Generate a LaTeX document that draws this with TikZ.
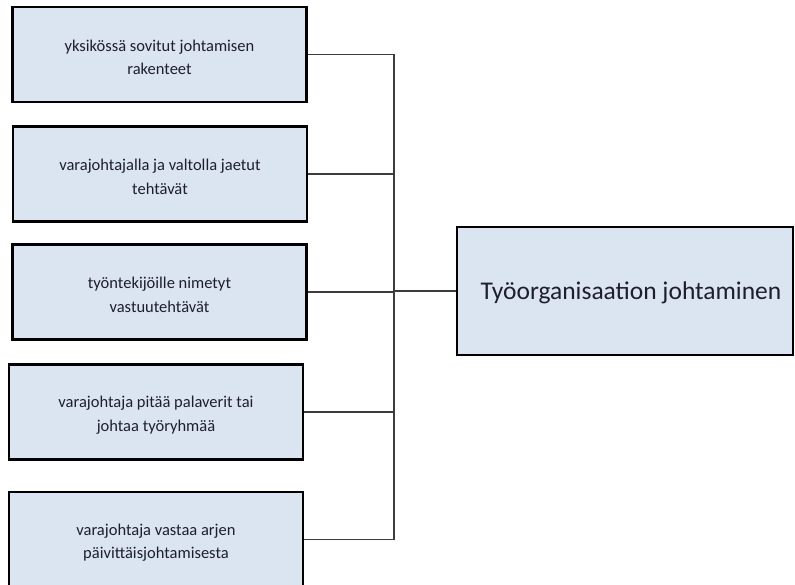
\documentclass[tikz,border=0pt]{standalone}
\usepackage{fontspec}
\setmainfont{Carlito}
\definecolor{boxfill}{HTML}{DBE5F1}
\definecolor{boxtext}{HTML}{1E1E2E}
\definecolor{wire}{HTML}{3C3C3C}
\tikzset{
  taskbox/.style={draw=black, line width=2.6pt, fill=boxfill,
    inner sep=0pt, minimum width=294pt, minimum height=95pt},
  mainbox/.style={taskbox, minimum width=336pt, minimum height=128pt},
  tasktext/.style={text=boxtext, align=center, inner sep=0pt,
    font=\fontsize{16.5}{23.5}\selectfont},
  maintext/.style={tasktext, font=\fontsize{25.5}{30}\selectfont},
  link/.style={draw=wire, line width=1.3pt}
}
\begin{document}
\begin{tikzpicture}[x=1pt,y=-1pt]
  \useasboundingbox (0,0) rectangle (795,584);
  % task boxes on the left
  \node[taskbox] (b1) at (159.5,54.5) {};
  \node[taskbox] (b2) at (160,174) {};
  \node[taskbox] (b3) at (159.5,292) {};
  \node[taskbox] (b4) at (156,412) {};
  \node[taskbox] (b5) at (156,539.5) {};
  \node[tasktext] (t1) at ([yshift=-3pt]b1.center) {yksikössä sovitut johtamisen\\rakenteet};
  \node[tasktext] (t2) at ([yshift=-3pt]b2.center) {varajohtajalla ja valtolla jaetut\\tehtävät};
  \node[tasktext] (t3) at ([yshift=-3pt]b3.center) {työntekijöille nimetyt\\vastuutehtävät};
  \node[tasktext] (t4) at ([yshift=-3pt]b4.center) {varajohtaja pitää palaverit tai\\johtaa työryhmää};
  \node[tasktext] (t5) at ([yshift=-3pt]b5.center) {varajohtaja vastaa arjen\\päivittäisjohtamisesta};
  % main box on the right
  \node[mainbox] (m) at (625,291) {};
  \node[maintext] (tm) at ([xshift=6pt,yshift=-2pt]m.center) {Työorganisaation johtaminen};
  % bus line joining the boxes
  \coordinate (bus) at (394,0);
  \draw[link] (b1.east) -- (b1.east -| bus) -- (b5.east -| bus) -- (b5.east);
  \draw[link] (b2.east) -- (b2.east -| bus);
  \draw[link] (b3.east) -- (b3.east -| bus);
  \draw[link] (b4.east) -- (b4.east -| bus);
  \draw[link] (m.west -| bus) -- (m.west);
\end{tikzpicture}
\end{document}
